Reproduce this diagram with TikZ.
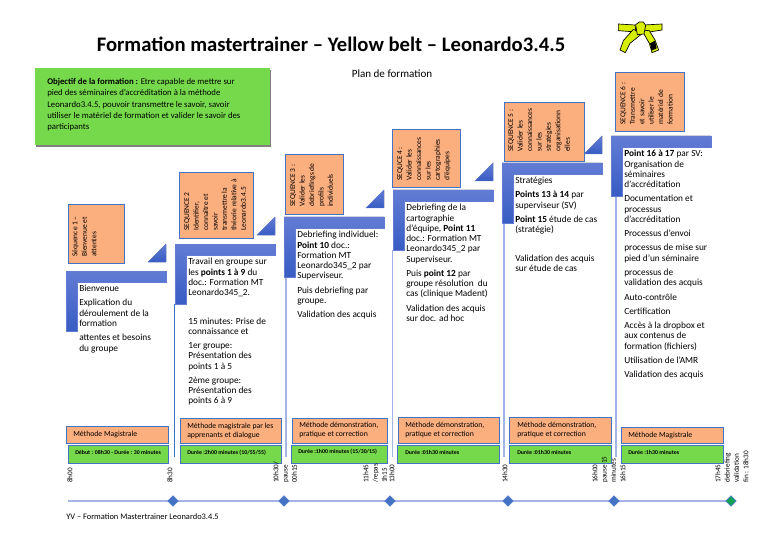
\documentclass[tikz,border=0pt]{standalone}
\usepackage{fontspec}
\usetikzlibrary{shapes.geometric}
\setmainfont{Carlito}

\definecolor{seqorange}{RGB}{251,174,126}
\definecolor{seqgreen}{RGB}{118,217,76}
\definecolor{seqblue}{RGB}{68,114,196}
\definecolor{paleblue}{RGB}{165,180,230}
\definecolor{frametop}{RGB}{98,124,212}
\definecolor{framebot}{RGB}{56,92,196}

\begin{document}
\begin{tikzpicture}[x=.75pt,y=-.75pt,
  orangebox/.style={fill=seqorange,draw=seqblue,line width=.7pt},
  greenbox/.style={fill=seqgreen,draw=seqblue,line width=.7pt},
  halfframe/.style={top color=frametop,bottom color=framebot,draw=frametop,line width=.3pt},
  seqtext/.style={rotate=90,anchor=north west,inner sep=0pt,align=left,font=\fontsize{5.6}{7.1}\selectfont},
  bodytext/.style={anchor=north west,inner sep=0pt,align=left,font=\fontsize{7}{7.7}\selectfont},
  methodtext/.style={anchor=west,inner sep=0pt,align=left,font=\fontsize{5.8}{6.8}\selectfont},
  dureetext/.style={anchor=west,inner sep=0pt,font=\fontsize{4.4}{5}\selectfont\bfseries},
  timetext/.style={rotate=90,anchor=north west,inner sep=0pt,align=left,font=\fontsize{5.4}{7}\selectfont},
  vline/.style={draw=paleblue,line width=1.4pt},
  jalon/.style={diamond,fill=seqblue,draw=seqblue,inner sep=0pt,minimum size=8pt},
]
\fill[white] (0,0) rectangle (784,552);
\node[font=\fontsize{15.5}{17}\selectfont\bfseries] (titre) at (331,44) {Formation mastertrainer – Yellow belt – Leonardo3.4.5};
\node[font=\fontsize{8.3}{9}\selectfont] (plan) at (392,74) {Plan de formation};

% objectif
\fill[black!50] (36,70) rectangle (270.5,147.5);
\fill[seqgreen] (35,68) rectangle (270,145);
\node[anchor=north west,inner sep=0pt,align=left,font=\fontsize{6.55}{8.5}\selectfont] (objectif) at (47,78) {\textbf{Objectif de la formation :} Etre capable de mettre sur\\pied des séminaires d’accréditation à la méthode\\Leonardo3.4.5, pouvoir transmettre le savoir, savoir\\utiliser le matériel de formation et valider le savoir des\\participants};

% ceinture
\begin{scope}[shift={(600,10)},x=.25pt,y=-.25pt,draw=black,fill={rgb,255:red,216;green,238;blue,0},line width=.5pt]
\filldraw (55,42)--(105,45)--(108,66)--(55,62)--cycle;
\filldraw (132,45)--(186,42)--(186,60)--(135,68)--cycle;
\filldraw (100,58)--(125,72)--(90,100)--(76,128)--(60,120)--(70,92)--cycle;
\filldraw (125,60)--(148,62)--(165,90)--(176,120)--(156,128)--(148,100)--cycle;
\fill[black] (150,100)--(165,92)--(170,115)--(155,122)--cycle;
\filldraw (107,44)--(118,36)--(130,36)--(137,46)--(132,72)--(112,74)--cycle;
\end{scope}

% volets et triangles
\foreach \x/\y in {66/271,175/244,284/217,393/190,502/163,611/136}
  \filldraw[halfframe] (\x,\y)--(\x+100,\y)--(\x+100,\y+11)--(\x+11,\y+11)--(\x+11,\y+60)--(\x,\y+60)--cycle;
\foreach \x/\y in {166/244,275/217,384/190,493/163,602/136}
  \filldraw[halfframe] (\x,\y)--(\x,\y+18)--(\x-18,\y+18)--cycle;

% verticales
\draw[draw=seqblue,line width=.7pt] (174.5,304)--(174.5,457);
\draw[vline] (286,278)--(286,457);
\draw[vline] (392.5,250)--(392.5,457);
\draw[vline] (504,224)--(504,457);
\draw[vline] (616,197)--(616,457);

% sequences
\draw[orangebox] (68,204) rectangle (124,263);
\node[seqtext] (seq1) at (72,257) {Séquence 1 –\\Bienvenue et\\attentes};
\draw[orangebox] (179,172) rectangle (253,238);
\node[seqtext] (seq2) at (184,231) {SEQUENCE 2\\Identifier,\\connaître et\\savoir\\transmettre la\\théorie relative à\\Leonardo3.4.5};
\draw[orangebox] (285,154) rectangle (343,214);
\node[seqtext] (seq3) at (290,207) {SEQUENCE 3 :\\Valider les\\debriefings de\\profils\\individuels};
\draw[orangebox] (392,129) rectangle (460,187);
\node[seqtext] (seq4) at (397,181) {SEQUCE 4 :\\Valider les\\connaissances\\sur les\\cartographies\\d'équipes};
\draw[orangebox] (504,102) rectangle (584,161);
\node[seqtext] (seq5) at (508,152) {SEQUENCE 5 :\\Valider les\\connaissances\\sur les\\stratégies\\organisationn\\elles};
\draw[orangebox] (615,72) rectangle (684,131);
\node[seqtext] (seq6) at (620,125) {SEQUENCE 6 :\\Transmettre\\et savoir\\utiliser le\\matériel de\\formation};

% contenus
\node[bodytext] (corps1) at (79,285) {Bienvenue\\[3pt]Explication du\\déroulement de la\\formation\\[3pt]attentes et besoins\\du groupe};
\node[bodytext] (corps2) at (188,258) {Travail en groupe sur\\les \textbf{points 1 à 9} du\\doc.: Formation MT\\Leonardo345\_2.\\[3pt]\mbox{}\\[3pt]15 minutes: Prise de\\connaissance et\\[3pt]1er groupe:\\Présentation des\\points 1 à 5\\[3pt]2ème groupe:\\Présentation des\\points 6 à 9};
\node[bodytext] (corps3) at (297,231) {Debriefing individuel:\\\textbf{Point 10} doc.:\\Formation MT\\Leonardo345\_2 par\\Superviseur.\\[3pt]Puis debriefing par\\groupe.\\[3pt]Validation des acquis};
\node[bodytext] (corps4) at (406,204) {Debriefing de la\\cartographie\\d'équipe, \textbf{Point 11}\\doc.: Formation MT\\Leonardo345\_2 par\\Superviseur.\\[3pt]Puis \textbf{point 12} par\\groupe résolution\ \ du\\cas (clinique Madent)\\[3pt]Validation des acquis\\sur doc. ad hoc};
\node[bodytext] (corps5) at (515,177) {Stratégies\\[3pt]\textbf{Points 13 à 14} par\\superviseur (SV)\\[3pt]\textbf{Point 15} étude de cas\\(stratégie)\\[3pt]\mbox{}\\[3pt]Validation des acquis\\sur étude de cas};
\node[bodytext] (corps6) at (624,150) {\textbf{Point 16 à 17} par SV:\\Organisation de\\séminaires\\d'accréditation\\[3pt]Documentation et\\processus\\d'accréditation\\[3pt]Processus d'envoi\\[3pt]processus de mise sur\\pied d'un séminaire\\[3pt]processus de\\validation des acquis\\[3pt]Auto-contrôle\\[3pt]Certification\\[3pt]Accès à la dropbox et\\aux contenus de\\formation (fichiers)\\[3pt]Utilisation de l'AMR\\[3pt]Validation des acquis};

% methodes et durees
\draw[orangebox] (66,426) rectangle (168,443); \node[methodtext] (meth1) at (73,434.5) {Méthode Magistrale};
\draw[orangebox] (180,418) rectangle (281,443); \node[methodtext] (meth2) at (187,431) {Méthode magistrale par les\\apprenants et dialogue};
\draw[orangebox] (292,418) rectangle (387,443); \node[methodtext] (meth3) at (299,430) {Méthode démonstration,\\pratique et correction};
\draw[orangebox] (398,417) rectangle (499,443); \node[methodtext] (meth4) at (405,430) {Méthode démonstration,\\pratique et correction};
\draw[orangebox] (509,417) rectangle (611,443); \node[methodtext] (meth5) at (517,430) {Méthode démonstration,\\pratique et correction};
\draw[orangebox] (621,427) rectangle (723,443); \node[methodtext] (meth6) at (628,435) {Méthode Magistrale};

\draw[greenbox] (68,445) rectangle (168,463); \node[dureetext] (duree1) at (75,452) {Début : 08h30 - Durée : 30 minutes};
\draw[greenbox] (180,445) rectangle (281,463); \node[dureetext] (duree2) at (187,452.5) {Durée :2h00 minutes (10/55/55)};
\draw[greenbox] (291,445) rectangle (387,463); \node[dureetext] (duree3) at (298,452) {Durée :1h00 minutes (15/30/15)};
\draw[greenbox] (397,445) rectangle (499,463); \node[dureetext] (duree4) at (405,452) {Durée :01h30 minutes};
\draw[greenbox] (509,445) rectangle (611,463); \node[dureetext] (duree5) at (517,452) {Durée :01h30 minutes};
\draw[greenbox] (621,445) rectangle (723,463); \node[dureetext] (duree6) at (628,452) {Durée :1h30 minutes};

% heures
\node[timetext] (h1) at (67,483) {8h00};
\node[timetext] (h2) at (167,483) {8h30};
\node[timetext] (h3) at (273,483) {10h30/\\pause\\00h15};
\node[timetext] (h4) at (363,483) {11h45\\/repas\\1h15};
\node[timetext] (h5) at (389,483) {13h00};
\node[timetext] (h6) at (502,483) {14h30};
\node[timetext] (h7) at (592,483) {16h00\\pause 15\\minutes};
\node[timetext] (h8) at (620,483) {16h15};
\node[timetext] (h9) at (715,483) {17h45\\debriefing\\validation\\fin : 18h30};

% frise
\coordinate (debut) at (68,501);
\draw[vline] (debut)--(731,501);
\node[jalon] (j1) at (173,501) {};
\node[jalon] (j2) at (284,501) {};
\node[jalon] (j3) at (390,501) {};
\node[jalon] (j4) at (508,501) {};
\node[jalon] (j5) at (614,501) {};
\node[jalon,fill={rgb,255:red,20;green,160;blue,90}] (j6) at (731,501) {};

\node[anchor=west,inner sep=0pt,font=\fontsize{6.3}{7}\selectfont] (pied) at (66,517) {YV – Formation Mastertrainer Leonardo3.4.5};
\end{tikzpicture}
\end{document}
